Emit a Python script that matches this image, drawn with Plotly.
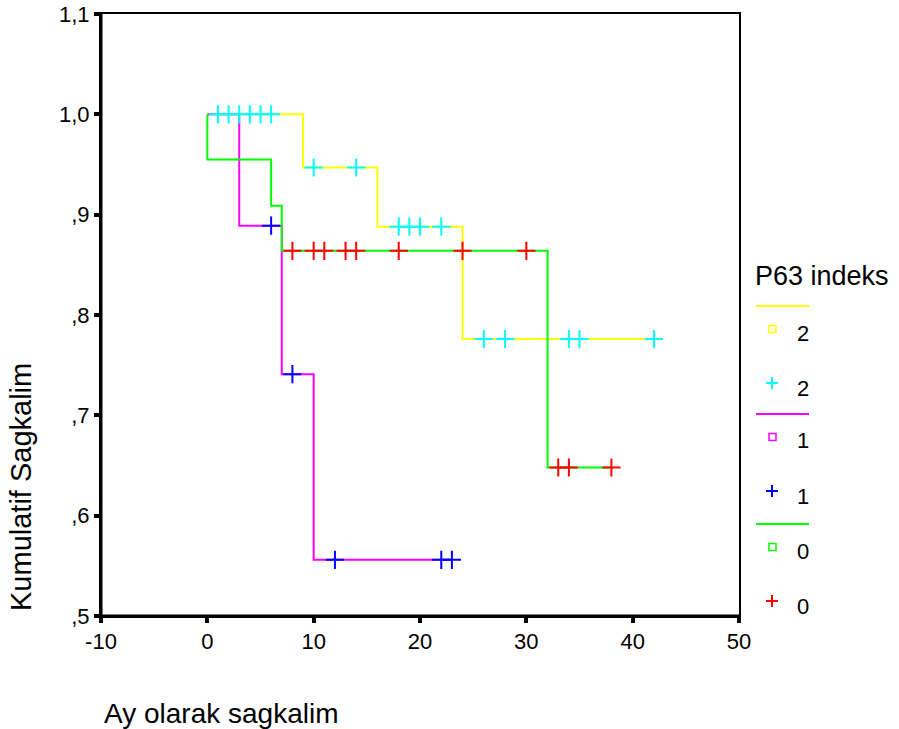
import plotly.graph_objects as go

# Kaplan-Meier survival by P63 index: step points (months, cumulative survival)
p63_2_times = [0, 9, 16, 24, 42]
p63_2_surv = [1.0, 0.947, 0.888, 0.776, 0.776]
p63_2_censored = [1, 2, 3, 4, 5, 6, 10, 14, 18, 19, 20, 22, 26, 28, 34, 35, 42]

p63_1_times = [0, 3, 7, 10, 23]
p63_1_surv = [1.0, 0.889, 0.741, 0.556, 0.556]
p63_1_censored = [6, 8, 12, 22, 23]

p63_0_times = [0, 0, 6, 7, 32, 38]
p63_0_surv = [1.0, 0.955, 0.909, 0.864, 0.648, 0.648]
p63_0_censored = [8, 10, 11, 13, 14, 18, 24, 30, 33, 34, 38]

x_ticks = [-10, 0, 10, 20, 30, 40, 50]
y_ticks = [0.5, 0.6, 0.7, 0.8, 0.9, 1.0, 1.1]
y_tick_text = [",5", ",6", ",7", ",8", ",9", "1,0", "1,1"]

group_labels = ["2", "1", "0"]
line_colors = ["#FFFF00", "#FF00FF", "#00FF00"]
censor_colors = ["#00FFFF", "#0000FF", "#FF0000"]

FONT = "Liberation Sans, Arial, sans-serif"

# plot-area geometry in pixels (page 899 x 729)
W, H = 899, 729
L, R, T, B = 101, 739, 14, 616


def px(xp):
    return (xp - L) / (R - L)


def py(yp):
    return (B - yp) / (B - T)


def surv_at(times, surv, t):
    val = surv[0]
    for ti, si in zip(times, surv):
        if ti <= t:
            val = si
    return val


groups = [
    (p63_2_times, p63_2_surv, p63_2_censored),
    (p63_1_times, p63_1_surv, p63_1_censored),
    (p63_0_times, p63_0_surv, p63_0_censored),
]

fig = go.Figure()

for (times, surv, _), color in zip(groups, line_colors):
    fig.add_trace(go.Scatter(
        x=times, y=surv, mode="lines", line=dict(color=color, width=2, shape="hv"),
        hoverinfo="skip", showlegend=False,
    ))

for (times, surv, cens), color in zip(groups, censor_colors):
    fig.add_trace(go.Scatter(
        x=cens, y=[surv_at(times, surv, c) for c in cens], mode="markers",
        marker=dict(symbol="cross-thin", size=13, line=dict(color=color, width=2)),
        hoverinfo="skip", showlegend=False,
    ))

shapes = []
annotations = []

# legend block
annotations.append(dict(
    x=px(753), y=py(276), xref="paper", yref="paper", text="P63 indeks",
    showarrow=False, xanchor="left", yanchor="middle",
    font=dict(family=FONT, size=27, color="black"),
))
base_y = [306, 414, 524]
for i, label in enumerate(group_labels):
    ly = base_y[i]
    shapes.append(dict(type="line", xref="paper", yref="paper",
                       x0=px(756), x1=px(809), y0=py(ly), y1=py(ly),
                       line=dict(color=line_colors[i], width=2)))
    sy = ly + 23
    shapes.append(dict(type="rect", xref="paper", yref="paper",
                       x0=px(769), x1=px(776), y0=py(sy - 3.5), y1=py(sy + 3.5),
                       line=dict(color=line_colors[i], width=1.5)))
    cy = ly + 77
    shapes.append(dict(type="line", xref="paper", yref="paper",
                       x0=px(766), x1=px(778), y0=py(cy), y1=py(cy),
                       line=dict(color=censor_colors[i], width=2)))
    shapes.append(dict(type="line", xref="paper", yref="paper",
                       x0=px(772), x1=px(772), y0=py(cy - 6), y1=py(cy + 6),
                       line=dict(color=censor_colors[i], width=2)))
    for yy in (sy + 4, cy + 5):
        annotations.append(dict(
            x=px(795), y=py(yy), xref="paper", yref="paper", text=label,
            showarrow=False, xanchor="left", yanchor="middle",
            font=dict(family=FONT, size=22, color="black"),
        ))

# axis titles
annotations.append(dict(
    x=px(21), y=py(487), xref="paper", yref="paper", text="Kumulatif Sagkalim",
    textangle=-90, showarrow=False, xanchor="center", yanchor="middle",
    font=dict(family=FONT, size=29, color="black"),
))
annotations.append(dict(
    x=px(102), y=py(713), xref="paper", yref="paper", text="Ay olarak sagkalim",
    showarrow=False, xanchor="left", yanchor="middle",
    font=dict(family=FONT, size=28, color="black"),
))

# heavier left and bottom frame edges
shapes.append(dict(type="line", xref="paper", yref="paper", x0=0, x1=0, y0=0, y1=1,
                   line=dict(color="black", width=3)))
shapes.append(dict(type="line", xref="paper", yref="paper", x0=0, x1=1, y0=0, y1=0,
                   line=dict(color="black", width=3)))

fig.update_layout(
    width=W, height=H,
    margin=dict(l=L, r=W - R, t=T, b=H - B, autoexpand=False),
    paper_bgcolor="white", plot_bgcolor="white",
    showlegend=False,
    shapes=shapes, annotations=annotations,
    font=dict(family=FONT, color="black"),
)
fig.update_xaxes(
    range=[-10, 50], tickvals=x_ticks, ticktext=[str(v) for v in x_ticks],
    showgrid=False, zeroline=False, showline=True, linecolor="black", linewidth=2,
    mirror=True, ticks="outside", ticklen=5, tickwidth=4, tickcolor="black",
    tickfont=dict(family=FONT, size=22, color="black"), automargin=False,
)
fig.update_yaxes(
    range=[0.5, 1.1], tickvals=y_ticks, ticktext=y_tick_text,
    showgrid=False, zeroline=False, showline=True, linecolor="black", linewidth=2,
    mirror=True, ticks="outside", ticklen=5, tickwidth=4, tickcolor="black",
    tickfont=dict(family=FONT, size=22, color="black"), automargin=False,
)

fig.write_html("out.html")
